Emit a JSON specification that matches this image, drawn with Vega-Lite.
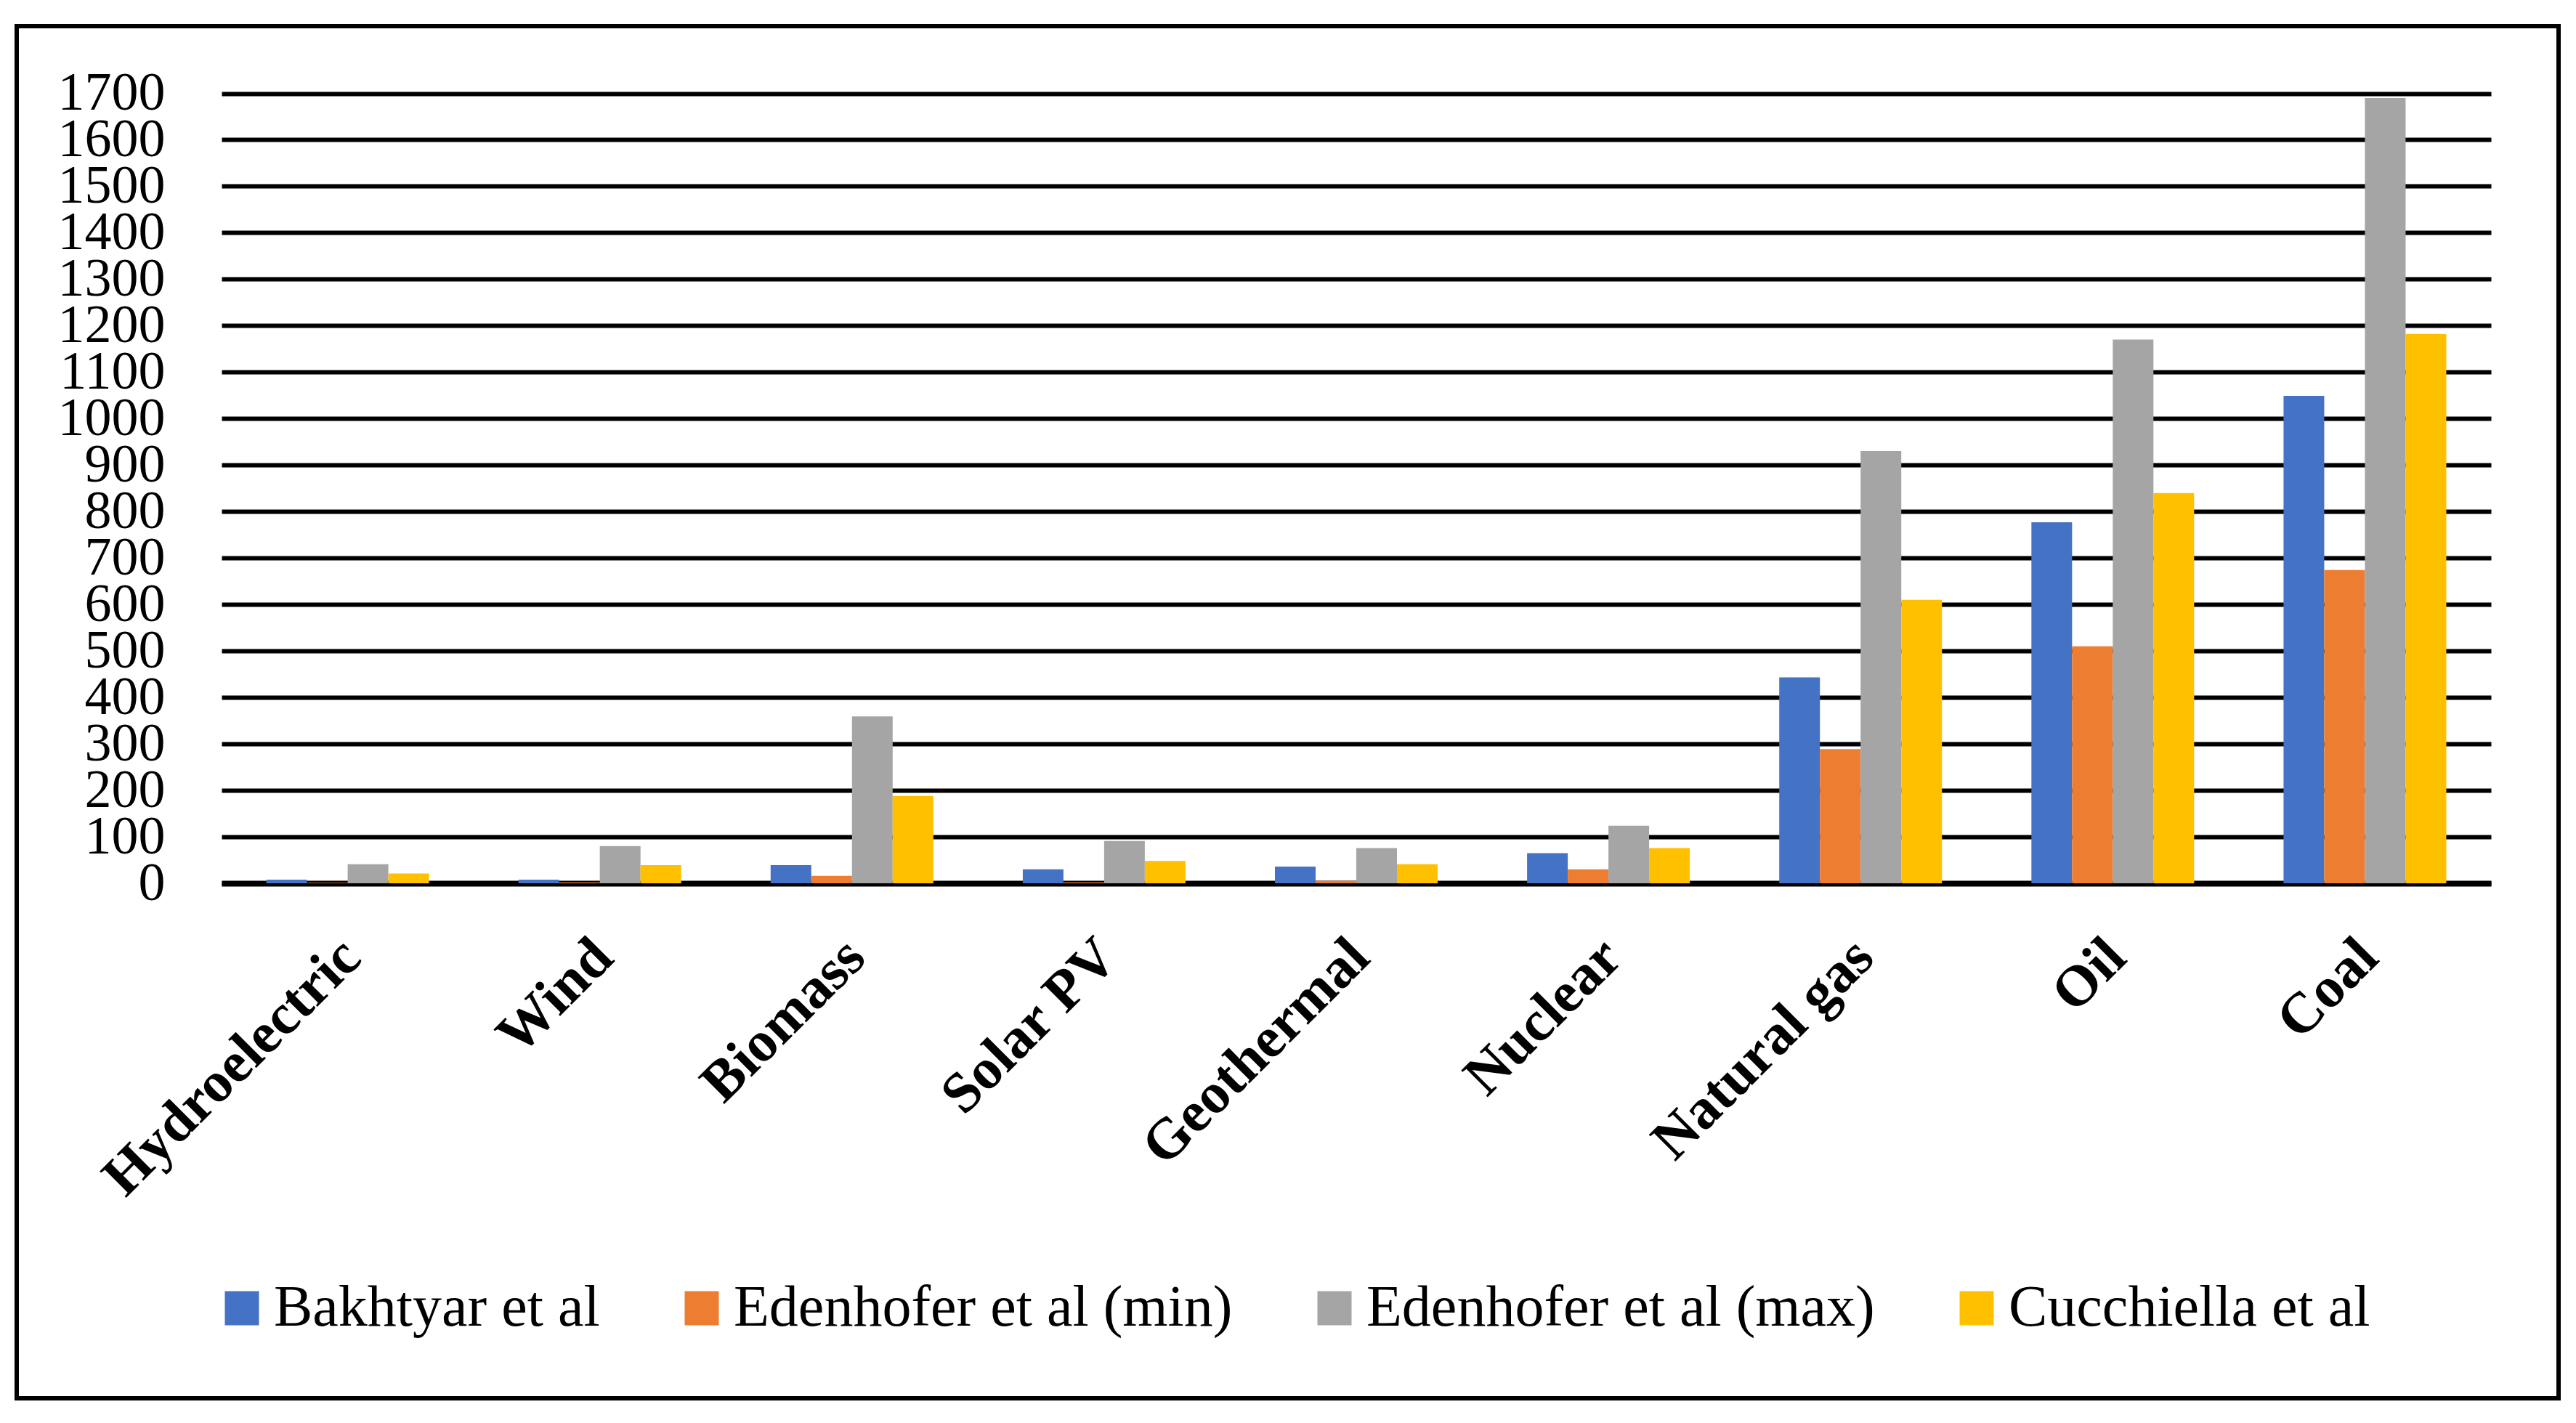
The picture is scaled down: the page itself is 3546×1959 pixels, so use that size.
{
  "$schema": "https://vega.github.io/schema/vega-lite/v6.json",
  "width": 3499,
  "height": 1889,
  "autosize": {"type": "none"},
  "padding": {"left": 23, "top": 36, "right": 24, "bottom": 34},
  "background": "white",
  "config": {
    "view": {"stroke": "black", "strokeWidth": 6},
    "font": "Liberation Serif"
  },
  "data": {
    "values": [
      {"source": "Hydroelectric", "series": "Bakhtyar et al", "value": 8},
      {"source": "Hydroelectric", "series": "Edenhofer et al (min)", "value": 1},
      {"source": "Hydroelectric", "series": "Edenhofer et al (max)", "value": 41},
      {"source": "Hydroelectric", "series": "Cucchiella et al", "value": 21},
      {"source": "Wind", "series": "Bakhtyar et al", "value": 8},
      {"source": "Wind", "series": "Edenhofer et al (min)", "value": 2},
      {"source": "Wind", "series": "Edenhofer et al (max)", "value": 80},
      {"source": "Wind", "series": "Cucchiella et al", "value": 39},
      {"source": "Biomass", "series": "Bakhtyar et al", "value": 39},
      {"source": "Biomass", "series": "Edenhofer et al (min)", "value": 16},
      {"source": "Biomass", "series": "Edenhofer et al (max)", "value": 359},
      {"source": "Biomass", "series": "Cucchiella et al", "value": 188},
      {"source": "Solar PV", "series": "Bakhtyar et al", "value": 30},
      {"source": "Solar PV", "series": "Edenhofer et al (min)", "value": 2},
      {"source": "Solar PV", "series": "Edenhofer et al (max)", "value": 91},
      {"source": "Solar PV", "series": "Cucchiella et al", "value": 48},
      {"source": "Geothermal", "series": "Bakhtyar et al", "value": 36},
      {"source": "Geothermal", "series": "Edenhofer et al (min)", "value": 5},
      {"source": "Geothermal", "series": "Edenhofer et al (max)", "value": 76},
      {"source": "Geothermal", "series": "Cucchiella et al", "value": 41},
      {"source": "Nuclear", "series": "Bakhtyar et al", "value": 65},
      {"source": "Nuclear", "series": "Edenhofer et al (min)", "value": 30},
      {"source": "Nuclear", "series": "Edenhofer et al (max)", "value": 124},
      {"source": "Nuclear", "series": "Cucchiella et al", "value": 76},
      {"source": "Natural gas", "series": "Bakhtyar et al", "value": 443},
      {"source": "Natural gas", "series": "Edenhofer et al (min)", "value": 289},
      {"source": "Natural gas", "series": "Edenhofer et al (max)", "value": 930},
      {"source": "Natural gas", "series": "Cucchiella et al", "value": 610},
      {"source": "Oil", "series": "Bakhtyar et al", "value": 777},
      {"source": "Oil", "series": "Edenhofer et al (min)", "value": 510},
      {"source": "Oil", "series": "Edenhofer et al (max)", "value": 1170},
      {"source": "Oil", "series": "Cucchiella et al", "value": 840},
      {"source": "Coal", "series": "Bakhtyar et al", "value": 1049},
      {"source": "Coal", "series": "Edenhofer et al (min)", "value": 674},
      {"source": "Coal", "series": "Edenhofer et al (max)", "value": 1690},
      {"source": "Coal", "series": "Cucchiella et al", "value": 1182}
    ]
  },
  "mark": {"type": "bar"},
  "encoding": {
    "x": {
      "field": "source",
      "type": "nominal",
      "sort": ["Hydroelectric", "Wind", "Biomass", "Solar PV", "Geothermal", "Nuclear", "Natural gas", "Oil", "Coal"],
      "scale": {"range": [282, 3406], "paddingInner": 0.3547, "paddingOuter": 0.1774},
      "axis": {
        "orient": "bottom",
        "offset": -709,
        "title": null,
        "labelAngle": -45,
        "labelFont": "Liberation Serif",
        "labelFontWeight": "bold",
        "labelFontSize": 79,
        "labelColor": "black",
        "labelPadding": 62,
        "labelOffset": -22,
        "labelLimit": 2000,
        "labelOverlap": false,
        "ticks": false,
        "domain": true,
        "domainColor": "black",
        "domainWidth": 8,
        "grid": false
      }
    },
    "xOffset": {
      "field": "series",
      "type": "nominal",
      "sort": ["Bakhtyar et al", "Edenhofer et al (min)", "Edenhofer et al (max)", "Cucchiella et al"],
      "scale": {"paddingInner": 0, "paddingOuter": 0}
    },
    "y": {
      "field": "value",
      "type": "quantitative",
      "scale": {"domain": [0, 1700], "range": [1180, 92.5], "nice": false},
      "axis": {
        "orient": "left",
        "offset": -204,
        "title": null,
        "format": "d",
        "values": [0, 100, 200, 300, 400, 500, 600, 700, 800, 900, 1000, 1100, 1200, 1300, 1400, 1500, 1600, 1700],
        "labelFont": "Liberation Serif",
        "labelFontSize": 74,
        "labelColor": "black",
        "labelPadding": 0,
        "labelOverlap": false,
        "ticks": false,
        "domain": false,
        "grid": true,
        "gridColor": "black",
        "gridWidth": 6,
        "gridOpacity": 1
      }
    },
    "color": {
      "field": "series",
      "type": "nominal",
      "sort": ["Bakhtyar et al", "Edenhofer et al (min)", "Edenhofer et al (max)", "Cucchiella et al"],
      "scale": {
        "domain": ["Bakhtyar et al", "Edenhofer et al (min)", "Edenhofer et al (max)", "Cucchiella et al"],
        "range": ["#4472C4", "#ED7D31", "#A5A5A5", "#FFC000"]
      },
      "legend": {
        "orient": "none",
        "legendX": 270,
        "legendY": 1725,
        "direction": "horizontal",
        "title": null,
        "symbolType": "square",
        "symbolSize": 2209,
        "symbolStrokeWidth": 0,
        "labelFont": "Liberation Serif",
        "labelFontSize": 80,
        "labelColor": "black",
        "labelOffset": 4,
        "labelLimit": 2000,
        "columnPadding": 100
      }
    }
  }
}
